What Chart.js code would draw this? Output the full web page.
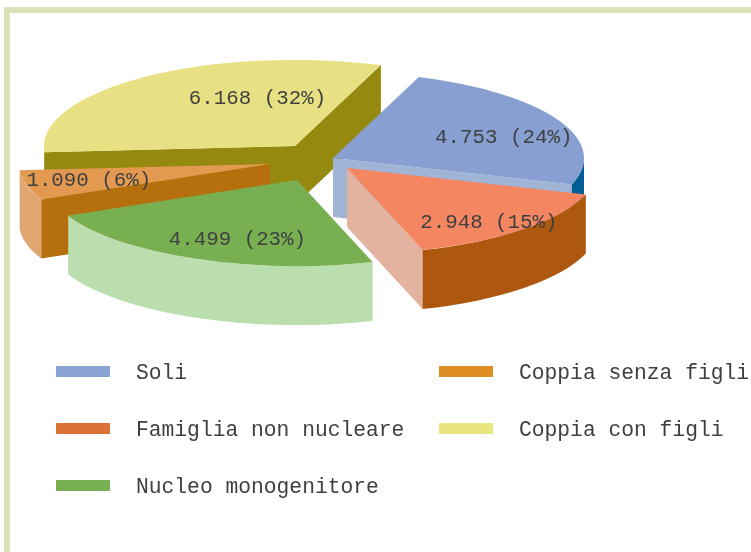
<!DOCTYPE html>
<html>
<head>
<meta charset="utf-8">
<title>Famiglie</title>
<script src="https://cdn.jsdelivr.net/npm/chart.js@4"></script>
<style>
  html, body { margin: 0; padding: 0; background: #fff; overflow: hidden; }
  #frame { position: absolute; left: 4px; top: 7px; width: 751px; height: 552px;
           border-left: 6px solid #dae2b8; border-top: 6px solid #dae2b8; }
  #pie { position: absolute; left: 0; top: 0; }
</style>
</head>
<body>
<div id="frame"></div>
<canvas id="pie" width="751" height="552"></canvas>
<script>
const categories = ["Soli", "Famiglia non nucleare", "Nucleo monogenitore", "Coppia senza figli", "Coppia con figli"];
const values = [4753, 2948, 4499, 1090, 6168];

const topColors = ["#87a0d1", "#f58662", "#78af50", "#e39a50", "#e8e183"];
const cutColors = ["#a0b4d6", "#e3b3a0", "#78af50", "#b56f0c", "#96890f"];
const rimColors = ["#005d96", "#ae570e", "#badeae", "#dfa671", "#96890f"];
const legendColors = ["#8aa2d4", "#dd7239", "#78b052", "#de8e22", "#e9e57f"];

// how far each slice is pulled out of the pie, [dx, dy]
const explode = [[23, -5], [37, 5], [-13, 17], [-40, 1], [-15, -17]];
const labelNudge = [[0, 8], [8, 8], [18, 0], [3, 1], [77, 4]];
// back to front
const paintOrder = [4, 0, 3, 1, 2];

const TILT = 0.343;
const DEPTH = 59;
const RADIUS = 251;
const LABEL_REACH = 190;
const MONO = '"Liberation Mono", monospace';

function labelText(i) {
  const total = values.reduce((a, b) => a + b, 0);
  const n = String(values[i]).replace(/\B(?=(\d{3})+$)/g, ".");
  return n + " (" + Math.round(values[i] / total * 100) + "%)";
}

function drawWalls(ctx, arc, i, cx, cy) {
  const r = arc.outerRadius;
  const a0 = arc.startAngle;
  const a1 = arc.endAngle;

  // flat cut faces, only the ones turned toward the viewer
  [[a0, -Math.cos(a0)], [a1, Math.cos(a1)]].forEach(([a, facing]) => {
    if (facing <= 0) return;
    const ex = cx + r * Math.cos(a);
    const ey = cy + r * TILT * Math.sin(a);
    ctx.fillStyle = cutColors[i];
    ctx.beginPath();
    ctx.moveTo(cx, cy);
    ctx.lineTo(ex, ey);
    ctx.lineTo(ex, ey + DEPTH);
    ctx.lineTo(cx, cy + DEPTH);
    ctx.closePath();
    ctx.fill();
  });

  // curved rim, front half of the ellipse only
  const turns = Math.floor(a0 / (2 * Math.PI));
  const base = turns * 2 * Math.PI;
  [[base, base + Math.PI], [base + 2 * Math.PI, base + 3 * Math.PI]].forEach(([lo, hi]) => {
    const from = Math.max(a0, lo);
    const to = Math.min(a1, hi);
    if (to <= from) return;
    ctx.fillStyle = rimColors[i];
    ctx.beginPath();
    ctx.ellipse(cx, cy, r, r * TILT, 0, from, to);
    ctx.ellipse(cx, cy + DEPTH, r, r * TILT, 0, to, from, true);
    ctx.closePath();
    ctx.fill();
  });
}

const tiltedPie = {
  id: "tiltedPie",
  beforeDatasetsDraw(chart) {
    const ctx = chart.ctx;
    const arcs = chart.getDatasetMeta(0).data;

    paintOrder.forEach((i) => {
      const arc = arcs[i];
      const cx = arc.x + explode[i][0];
      const cy = arc.y + explode[i][1];
      drawWalls(ctx, arc, i, cx, cy);

      ctx.save();
      ctx.translate(cx, cy);
      ctx.scale(1, TILT);
      ctx.translate(-arc.x, -arc.y);
      arc.draw(ctx);
      ctx.restore();
    });

    ctx.save();
    ctx.font = "20.8px " + MONO;
    ctx.fillStyle = "#404040";
    ctx.textAlign = "center";
    ctx.textBaseline = "middle";
    arcs.forEach((arc, i) => {
      const mid = (arc.startAngle + arc.endAngle) / 2;
      const x = arc.x + explode[i][0] + LABEL_REACH * Math.cos(mid) + labelNudge[i][0];
      const y = arc.y + explode[i][1] + LABEL_REACH * TILT * Math.sin(mid) + labelNudge[i][1];
      ctx.fillText(labelText(i), x, y);
    });
    ctx.restore();

    return false;
  },
  afterDraw(chart) {
    // legend runs down the columns, which the built-in one can't lay out here
    const ctx = chart.ctx;
    const columnX = [56, 439];
    ctx.save();
    ctx.font = "21.3px " + MONO;
    ctx.textAlign = "left";
    ctx.textBaseline = "middle";
    categories.forEach((name, i) => {
      const col = i < 3 ? 0 : 1;
      const row = i < 3 ? i : i - 3;
      const top = 366 + row * 57;
      ctx.fillStyle = legendColors[i];
      ctx.fillRect(columnX[col], top, 54, 11);
      ctx.fillStyle = "#404040";
      ctx.fillText(name, columnX[col] + 80, top + 7);
    });
    ctx.restore();
  },
};

new Chart(document.querySelector("#pie"), {
  type: "pie",
  data: {
    labels: categories,
    datasets: [
      {
        data: values,
        backgroundColor: topColors,
        borderWidth: 0,
        radius: RADIUS,
      },
    ],
  },
  options: {
    responsive: false,
    animation: false,
    rotation: 20,
    layout: { padding: { right: 131, bottom: 226 } },
    plugins: {
      legend: { display: false },
      tooltip: { enabled: false },
    },
  },
  plugins: [tiltedPie],
});
</script>
</body>
</html>
